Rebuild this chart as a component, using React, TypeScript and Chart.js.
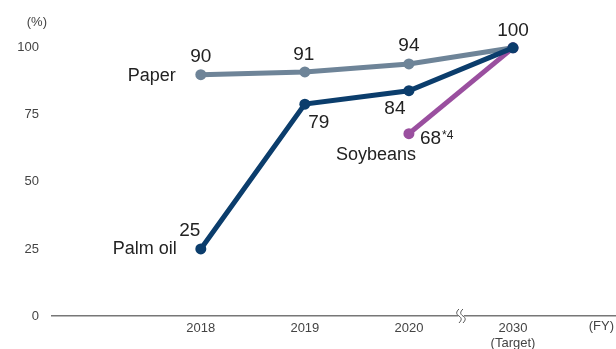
import React, { useEffect, useRef } from "react";
import { Chart, registerables } from "chart.js";

Chart.register(...registerables);

const years = ["2018", "2019", "2020", "2030"];
const yearSub = ["", "", "", "(Target)"];
const paper = [90, 91, 94, 100];
const palmOil = [25, 79, 84, 100];
const soybeans: (number | null)[] = [null, null, 68, 100];
const yTicks = [0, 25, 50, 75, 100];

const PAPER = "#6e8498";
const PALM = "#0b3d6c";
const SOY = "#9a4f9f";
const TEXT = "#222";
const NARROW = "'Liberation Sans Narrow', 'Liberation Sans', Arial, sans-serif";
const SANS = "'Liberation Sans', Arial, sans-serif";

const toPts = (arr: (number | null)[]) =>
  arr.map((v, i) => ({ x: i, y: v })).filter((p) => p.y !== null);

// label offsets relative to point, per dataset
const labelOffsets: Record<string, [number, number][]> = {
  Paper: [[0, -18], [-1, -17], [0, -18], [0, -17]],
  "Palm oil": [[-11, -18], [14, 19], [-14, 18], [0, 0]],
  Soybeans: [[0, 0], [0, 0], [11, 5], [0, 0]],
};

const labelsPlugin = {
  id: "customLabels",
  afterDatasetsDraw(chart: any) {
    const ctx = chart.ctx;
    ctx.save();
    ctx.fillStyle = TEXT;
    ctx.textBaseline = "middle";
    chart.data.datasets.forEach((ds: any, di: number) => {
      const meta = chart.getDatasetMeta(di);
      meta.data.forEach((pt: any, j: number) => {
        const raw = ds.data[j];
        const idx = raw.x;
        const name = ds.label;
        if (name === "Palm oil" && idx === 3) return;
        if (name === "Soybeans" && idx !== 2) return;
        const off = labelOffsets[name][idx];
        ctx.font = `19px ${SANS}`;
        if (name === "Soybeans") {
          ctx.textAlign = "left";
          const t = String(raw.y);
          ctx.fillText(t, pt.x + off[0], pt.y + off[1]);
          const w = ctx.measureText(t).width;
          ctx.font = `12px ${SANS}`;
          ctx.fillText("*4", pt.x + off[0] + w + 1, pt.y + off[1] - 3);
        } else {
          ctx.textAlign = "center";
          ctx.fillText(String(raw.y), pt.x + off[0], pt.y + off[1]);
        }
      });
      // series names
      ctx.font = `18px ${SANS}`;
      const p0 = meta.data[0];
      if (!p0) return;
      if (ds.label === "Paper") {
        ctx.textAlign = "right";
        ctx.fillText("Paper", p0.x - 25, p0.y + 1);
      } else if (ds.label === "Palm oil") {
        ctx.textAlign = "right";
        ctx.fillText("Palm oil", p0.x - 24, p0.y + 0);
      } else if (ds.label === "Soybeans") {
        ctx.textAlign = "center";
        ctx.fillText("Soybeans", p0.x - 33, p0.y + 21);
      }
    });
    ctx.restore();
  },
  afterDraw(chart: any) {
    const ctx = chart.ctx;
    const xs = chart.scales.x;
    const ys = chart.scales.y;
    ctx.save();
    ctx.fillStyle = "#444";
    ctx.font = `13px ${NARROW}`;
    ctx.textBaseline = "middle";
    ctx.textAlign = "right";
    ctx.fillText("(%)", 47, 22);
    ctx.textAlign = "right";
    ctx.fillText("(FY)", 614, 326);
    // axis break symbol
    const bx = xs.getPixelForValue(2.5);
    const by = ys.getPixelForValue(0);
    ctx.fillStyle = "#fff";
    ctx.fillRect(bx - 3, by - 2, 6, 4);
    ctx.strokeStyle = "#555";
    ctx.lineWidth = 1;
    [-2, 2].forEach((dx) => {
      ctx.beginPath();
      ctx.moveTo(bx + dx, by - 7);
      ctx.bezierCurveTo(bx + dx - 3, by - 4, bx + dx - 3, by - 2, bx + dx, by);
      ctx.bezierCurveTo(bx + dx + 3, by + 2, bx + dx + 3, by + 4, bx + dx, by + 7);
      ctx.stroke();
    });
    ctx.restore();
  },
};

export default function App() {
  const ref = useRef<HTMLCanvasElement>(null);
  useEffect(() => {
    if (!ref.current) return;
    const mk = (label: string, data: any, color: string, order: number) => ({
      label,
      data,
      borderColor: color,
      backgroundColor: color,
      pointBackgroundColor: color,
      pointBorderColor: color,
      borderWidth: 5,
      pointRadius: 5.5,
      pointBorderWidth: 0,
      order,
      spanGaps: true,
    });
    const chart = new Chart(ref.current, {
      type: "line",
      data: {
        datasets: [
          mk("Paper", toPts(paper), PAPER, 2),
          mk("Soybeans", toPts(soybeans), SOY, 1),
          mk("Palm oil", toPts(palmOil), PALM, 0),
        ],
      },
      options: {
        animation: false,
        responsive: false,
        maintainAspectRatio: false,
        layout: { autoPadding: false, padding: { top: 21, right: 0, left: 0, bottom: 0 } },
        plugins: { legend: { display: false }, tooltip: { enabled: false } },
        scales: {
          x: {
            type: "linear",
            min: -1.43,
            max: 3.99,
            grid: { display: false },
            border: { display: true, color: "#777", width: 1.5 },
            afterBuildTicks: (s: any) => {
              s.ticks = years.map((_, i) => ({ value: i }));
            },
            afterFit: (s: any) => {
              s.height = 33;
              s.paddingLeft = 0;
              s.paddingRight = 0;
            },
            ticks: {
              autoSkip: false,
              maxRotation: 0,
              padding: -3,
              color: "#444",
              font: { family: NARROW, size: 13, lineHeight: 1.15 },
              callback: (v: any) => {
                const i = Math.round(v);
                return yearSub[i] ? [years[i], yearSub[i]] : years[i];
              },
            },
          },
          y: {
            type: "linear",
            min: 0,
            max: 110,
            grid: { display: false },
            border: { display: false },
            afterBuildTicks: (s: any) => {
              s.ticks = yTicks.map((v) => ({ value: v }));
            },
            afterFit: (s: any) => {
              s.width = 52;
              s.paddingTop = 0;
              s.paddingBottom = 0;
            },
            ticks: {
              padding: 5,
              color: "#444",
              font: { family: NARROW, size: 13 },
            },
          },
        },
      },
      plugins: [labelsPlugin],
    } as any);
    return () => chart.destroy();
  }, []);
  return (
    <div style={{ position: "absolute", left: 0, top: 0, width: 616, height: 349 }}>
      <canvas ref={ref} width={616} height={349} style={{ display: "block" }} />
    </div>
  );
}
